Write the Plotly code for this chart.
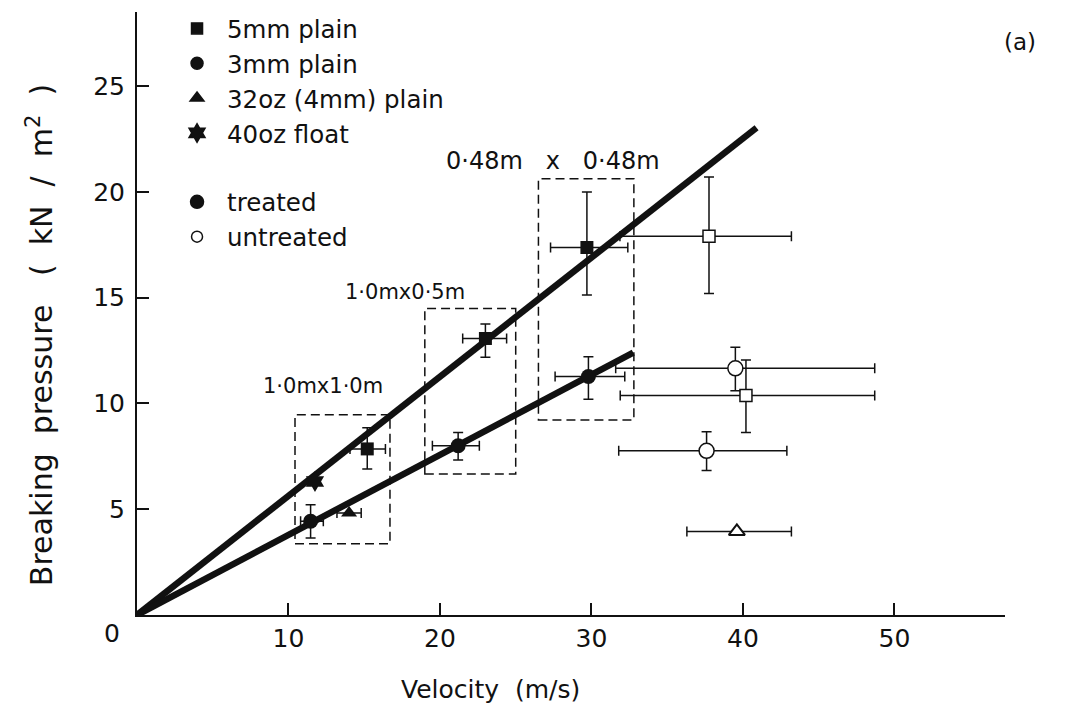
import plotly.graph_objects as go

# ---------------- data ----------------
# 5mm plain, treated (filled squares)
sq_t_v = [15.2, 23.0, 29.7]
sq_t_p = [7.85, 13.07, 17.37]
sq_t_p_plus = [1.0, 0.68, 2.62]
sq_t_p_minus = [0.95, 0.89, 2.25]
sq_t_v_plus = [1.2, 1.4, 2.7]
sq_t_v_minus = [1.14, 1.5, 2.4]

# 3mm plain, treated (filled circles)
ci_t_v = [11.46, 21.2, 29.8]
ci_t_p = [4.43, 8.0, 11.27]
ci_t_p_plus = [0.78, 0.62, 0.93]
ci_t_p_minus = [0.79, 0.67, 1.07]
ci_t_v_plus = [0.84, 1.4, 2.4]
ci_t_v_minus = [0.66, 1.7, 2.2]

# 32oz (4mm) plain, treated (filled triangle)
tr_t_v = [14.0]
tr_t_p = [4.82]
tr_t_v_plus = [0.8]
tr_t_v_minus = [0.8]

# 40oz float, treated (star)
st_t_v = [11.75]
st_t_p = [6.31]

# 5mm plain, untreated (open squares)
sq_u_v = [37.76, 40.2]
sq_u_p = [17.9, 10.37]
sq_u_p_plus = [2.8, 1.68]
sq_u_p_minus = [2.7, 1.75]
sq_u_v_plus = [5.44, 8.5]
sq_u_v_minus = [5.88, 8.3]

# 3mm plain, untreated (open circles)
ci_u_v = [39.5, 37.6]
ci_u_p = [11.66, 7.76]
ci_u_p_plus = [0.99, 0.9]
ci_u_p_minus = [1.06, 0.93]
ci_u_v_plus = [9.2, 5.3]
ci_u_v_minus = [7.9, 5.8]

# 32oz (4mm) plain, untreated (open triangle)
tr_u_v = [39.6]
tr_u_p = [3.95]
tr_u_v_plus = [3.6]
tr_u_v_minus = [3.3]

# fitted lines
fit5_v = [0.0, 40.9]
fit5_p = [0.0, 23.03]
fit3_v = [0.0, 32.76]
fit3_p = [0.0, 12.4]

# dashed panel-size boxes and their labels
box_v0 = [10.43, 19.0, 26.5]
box_v1 = [16.7, 25.0, 32.8]
box_p0 = [3.37, 6.67, 9.22]
box_p1 = [9.46, 14.49, 20.62]
box_labels = ["1·0mx1·0m", "1·0mx0·5m", "0·48m x 0·48m"]
box_label_v = [12.28, 17.7, 27.45]
box_label_p = [10.83, 15.26, 21.45]
box_label_size = [21, 21, 24]

x_ticks = [10, 20, 30, 40, 50]
y_ticks = [5, 10, 15, 20, 25]

legend_names = ["5mm plain", "3mm plain", "32oz (4mm) plain", "40oz float", "treated", "untreated"]

FONT = "DejaVu Sans"
BLACK = "#111111"
NB = "\u00a0"

fig = go.Figure()

def err(plus, minus):
    return dict(type="data", symmetric=False, array=plus, arrayminus=minus,
                color=BLACK, thickness=1.5, width=5)

# fitted lines
for v, p in [(fit5_v, fit5_p), (fit3_v, fit3_p)]:
    fig.add_trace(go.Scatter(x=v, y=p, mode="lines", line=dict(color=BLACK, width=6.5),
                             showlegend=False, hoverinfo="skip"))

# untreated
fig.add_trace(go.Scatter(x=sq_u_v, y=sq_u_p, mode="markers", showlegend=False,
                         marker=dict(symbol="square", size=12, color="white", line=dict(color=BLACK, width=1.5)),
                         error_x=err(sq_u_v_plus, sq_u_v_minus), error_y=err(sq_u_p_plus, sq_u_p_minus)))
fig.add_trace(go.Scatter(x=ci_u_v, y=ci_u_p, mode="markers", showlegend=False,
                         marker=dict(symbol="circle", size=15, color="white", line=dict(color=BLACK, width=1.5)),
                         error_x=err(ci_u_v_plus, ci_u_v_minus), error_y=err(ci_u_p_plus, ci_u_p_minus)))
fig.add_trace(go.Scatter(x=tr_u_v, y=tr_u_p, mode="markers", showlegend=False,
                         marker=dict(symbol="triangle-up", size=14, color="white", line=dict(color=BLACK, width=2)),
                         error_x=err(tr_u_v_plus, tr_u_v_minus)))

# treated
fig.add_trace(go.Scatter(x=sq_t_v, y=sq_t_p, mode="markers", showlegend=False,
                         marker=dict(symbol="square", size=13, color=BLACK),
                         error_x=err(sq_t_v_plus, sq_t_v_minus), error_y=err(sq_t_p_plus, sq_t_p_minus)))
fig.add_trace(go.Scatter(x=ci_t_v, y=ci_t_p, mode="markers", showlegend=False,
                         marker=dict(symbol="circle", size=15, color=BLACK),
                         error_x=err(ci_t_v_plus, ci_t_v_minus), error_y=err(ci_t_p_plus, ci_t_p_minus)))
fig.add_trace(go.Scatter(x=tr_t_v, y=tr_t_p, mode="markers", showlegend=False,
                         marker=dict(symbol="triangle-up", size=14, color=BLACK),
                         error_x=err(tr_t_v_plus, tr_t_v_minus)))
fig.add_trace(go.Scatter(x=st_t_v, y=st_t_p, mode="markers", showlegend=False,
                         marker=dict(symbol="hexagram", size=16, color=BLACK)))

# legend entries
leg_symbols = ["square", "circle", "triangle-up", "hexagram", "circle", "circle"]
leg_sizes = [11, 12, 12, 14, 13, 11]
leg_fill = [BLACK, BLACK, BLACK, BLACK, BLACK, "white"]
leg_groups = ["a", "a", "a", "a", "b", "b"]
for name, sym, sz, fc, grp in zip(legend_names, leg_symbols, leg_sizes, leg_fill, leg_groups):
    fig.add_trace(go.Scatter(x=[None], y=[None], mode="markers", name=name, legendgroup=grp,
                             marker=dict(symbol=sym, size=sz, color=fc, line=dict(color=BLACK, width=1.5))))

# dashed boxes
for v0, v1, p0, p1 in zip(box_v0, box_v1, box_p0, box_p1):
    fig.add_shape(type="rect", x0=v0, x1=v1, y0=p0, y1=p1, xref="x", yref="y",
                  line=dict(color=BLACK, width=1.5, dash="9px,5px"), fillcolor="rgba(0,0,0,0)")
for lab, v, p, fs in zip(box_labels, box_label_v, box_label_p, box_label_size):
    fig.add_annotation(x=v, y=p, xref="x", yref="y", text=lab.replace(" ", NB * 3 if fs > 22 else NB),
                       showarrow=False, xanchor="center", yanchor="middle",
                       font=dict(family=FONT, size=fs, color=BLACK))

# axis titles and extra labels
ytitle = ("Breaking" + NB * 2 + "pressure" + NB * 3 + "(" + NB * 2 + "kN" + NB * 2 + "/" + NB * 2
          + "m<sup>2</sup>" + NB * 2 + ")")
fig.add_annotation(x=-0.1118, y=0.464, xref="paper", yref="paper", text=ytitle,
                   textangle=-90, showarrow=False, xanchor="center", yanchor="middle",
                   font=dict(family=FONT, size=30, color=BLACK))
fig.add_annotation(x=0.4067, y=-0.124, xref="paper", yref="paper", text="Velocity" + NB * 2 + "(m/s)",
                   showarrow=False, xanchor="center", yanchor="middle",
                   font=dict(family=FONT, size=25, color=BLACK))
fig.add_annotation(x=-0.0288, y=-0.0315, xref="paper", yref="paper", text="0",
                   showarrow=False, xanchor="center", yanchor="middle",
                   font=dict(family=FONT, size=25, color=BLACK))
fig.add_annotation(x=1.017, y=0.951, xref="paper", yref="paper", text="(a)",
                   showarrow=False, xanchor="center", yanchor="middle",
                   font=dict(family=FONT, size=23, color=BLACK))

fig.update_layout(
    width=1073, height=727,
    margin=dict(l=137, r=68, t=12, b=112, autoexpand=False),
    plot_bgcolor="white", paper_bgcolor="white",
    font=dict(family=FONT, size=22, color=BLACK),
    showlegend=True,
    legend=dict(x=0.0346, y=1.01, xanchor="left", yanchor="top", bgcolor="rgba(0,0,0,0)",
                font=dict(family=FONT, size=24.5, color=BLACK), tracegroupgap=34, itemwidth=50),
    xaxis=dict(range=[0, 57.3], showline=True, linecolor=BLACK, linewidth=2, ticks="inside",
               ticklen=12, tickwidth=2, tickcolor=BLACK, tickvals=x_ticks, showgrid=False,
               zeroline=False, tickfont=dict(family=FONT, size=25, color=BLACK)),
    yaxis=dict(range=[0, 28.5], showline=True, linecolor=BLACK, linewidth=2, ticks="inside",
               ticklen=12, tickwidth=2, tickcolor=BLACK, tickvals=y_ticks, showgrid=False,
               zeroline=False, ticklabelstandoff=5, tickfont=dict(family=FONT, size=25, color=BLACK)),
)

fig.write_html("out.html")
